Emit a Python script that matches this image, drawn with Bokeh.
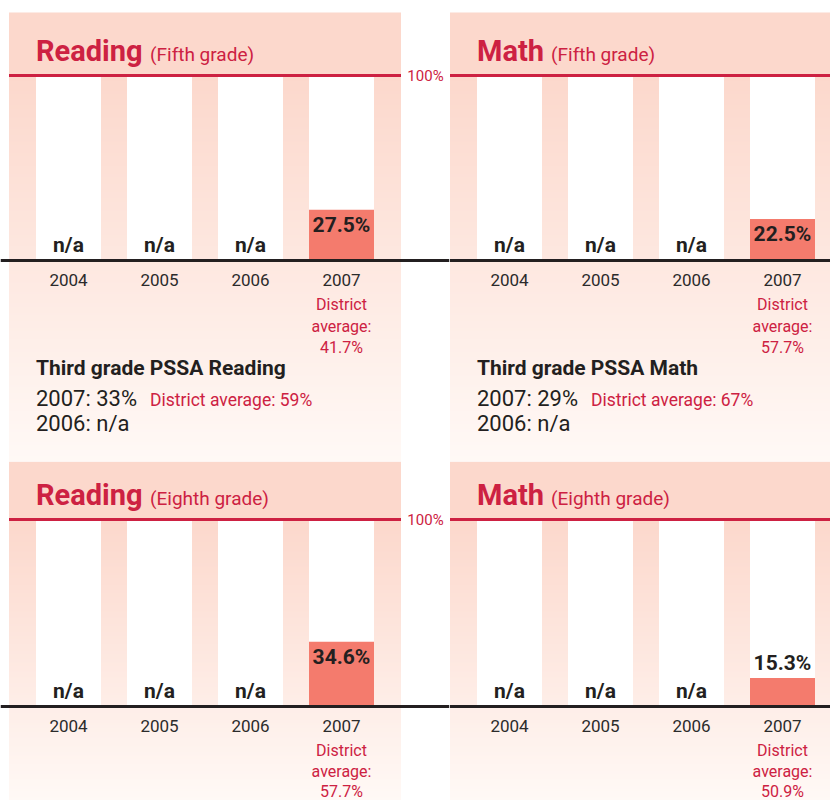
import numpy as np
from bokeh.plotting import figure
from bokeh.layouts import column, row
from bokeh.models import Range1d, Span
from bokeh.core.properties import value
from bokeh.embed import file_html
from bokeh.resources import INLINE

# ---------------- data ----------------
years = ["2004", "2005", "2006", "2007"]
reading_fifth = [None, None, None, 27.5]
math_fifth = [None, None, None, 22.5]
reading_eighth = [None, None, None, 34.6]
math_eighth = [None, None, None, 15.3]
district_fifth = {"Reading": 41.7, "Math": 57.7}
district_eighth = {"Reading": 57.7, "Math": 50.9}
third_subjects = ["Reading", "Math"]
third_2007 = [33, 29]
third_district = [59, 67]
third_2006 = ["n/a", "n/a"]

# ---------------- style ----------------
FONT = "Roboto"
CRIMSON = "#CD2142"
SALMON = "#F47B6D"
DARK = "#231F20"
C0 = np.array([252, 216, 204])
C2 = np.array([255, 249, 246])
SLOT = 91.0          # px between column centres
COLW = 65.0 / SLOT   # white column width
PAD = 59.5 / SLOT    # pink margin beyond first/last centre


def hexcol(c):
    return "#%02x%02x%02x" % tuple(int(round(v)) for v in c)


def txt(p, x, y, text, size, color=DARK, bold=False, align="left",
        xo=0, yo=0):
    p.text(x=x, y=y, text=text, x_offset=xo, y_offset=yo,
           text_font=value(FONT), text_font_size=f"{size}px",
           text_font_style="bold" if bold else "normal",
           text_color=color, text_align=align, text_baseline="middle")


def panel(subject, grade, vals, dist, width, height, x0px, line100, ppp,
          header, show100, dstep, third=None):
    y_top = 100 + line100 / ppp
    y_bot = 100 - (height - line100) / ppp
    p = figure(width=width, height=height,
               x_range=Range1d(-x0px / SLOT, (width - x0px) / SLOT),
               y_range=Range1d(y_bot, y_top),
               output_backend="svg", toolbar_location=None,
               x_axis_type=None, y_axis_type=None, min_border=0)
    p.outline_line_color = None
    p.background_fill_color = "white"
    p.border_fill_color = "white"
    p.xgrid.visible = False
    p.ygrid.visible = False

    n = len(years)
    xs = list(range(n))
    left, right = -PAD, (n - 1) + PAD

    # gradient background (overlapping pixel bands)
    tops, bots, cols = [], [], []
    start_px = line100 - header
    step = 3
    for ypx in range(int(start_px), height, step):
        t = max(0.0, (ypx - line100) / (height - line100))
        tops.append(100 - (ypx - line100) / ppp)
        bots.append(100 - (min(ypx + step + 1.5, height + 2) - line100) / ppp)
        cols.append(hexcol(C0 + (C2 - C0) * t))
    p.quad(left=[left] * len(tops), right=[right] * len(tops), top=tops,
           bottom=bots, fill_color=cols, line_color=None)

    # white column slots 0..100
    p.vbar(x=xs, width=COLW, bottom=0, top=100, fill_color="white",
           line_color=None)

    # value bars
    vx = [i for i, v in enumerate(vals) if v is not None]
    vv = [v for v in vals if v is not None]
    p.vbar(x=vx, width=COLW, bottom=0, top=vv, fill_color=SALMON,
           line_color=None)

    # lines
    p.segment(x0=[left], x1=[right], y0=[100], y1=[100], line_color=CRIMSON,
              line_width=3)
    p.add_layout(Span(location=0, dimension="width", line_color=DARK,
                      line_width=3))
    if show100:
        txt(p, [(n - 1) + PAD + 24.5 / SLOT], [100], ["100%"], 15, CRIMSON,
            align="center")

    # title
    txt(p, [-COLW / 2], [100], [subject], 29, CRIMSON, bold=True, yo=-25)
    txt(p, [-COLW / 2], [100], ["(" + grade + ")"], 19, CRIMSON,
        xo=(114 if subject == "Reading" else 74), yo=-21)

    # n/a labels
    nx = [i for i, v in enumerate(vals) if v is None]
    txt(p, nx, [0] * len(nx), ["n/a"] * len(nx), 21, DARK, bold=True,
        align="center", yo=-16)

    # value labels (inside bar if tall enough, otherwise above)
    for i, v in zip(vx, vv):
        yo = 15 if v * ppp >= 40 else -15
        txt(p, [i], [v], [f"{v}%"], 21, DARK, bold=True, align="center",
            yo=yo)

    # year labels
    txt(p, xs, [0] * n, years, 17, "#2b2b2b", align="center", yo=19.5)

    # district average under last year
    for k, line in enumerate(["District", "average:", f"{dist}%"]):
        txt(p, [n - 1], [0], [line], 16, CRIMSON, align="center",
            yo=44 + dstep * k)

    if third is not None:
        subj, v07, vd, v06 = third
        bx = [-COLW / 2]
        txt(p, bx, [0], [f"Third grade PSSA {subj}"], 21, DARK, bold=True,
            yo=107.5)
        txt(p, bx, [0], [f"2007: {v07}%"], 22, DARK, yo=137.5)
        txt(p, bx, [0], [f"District average: {vd}%"], 17.5, CRIMSON,
            xo=114, yo=139)
        txt(p, bx, [0], [f"2006: {v06}"], 22, DARK, yo=162.5)
    return p


LW, RW = 449, 381
TH, BH = 461, 339

p1 = panel("Reading", "Fifth grade", reading_fifth, district_fifth["Reading"],
           LW, TH, 68, 75, 1.85, 63, True, 21.7,
           (third_subjects[0], third_2007[0], third_district[0], third_2006[0]))
p2 = panel("Math", "Fifth grade", math_fifth, district_fifth["Math"],
           RW, TH, 60, 75, 1.85, 63, False, 21.7,
           (third_subjects[1], third_2007[1], third_district[1], third_2006[1]))
p3 = panel("Reading", "Eighth grade", reading_eighth, district_eighth["Reading"],
           LW, BH, 68, 58, 1.87, 58, True, 20.5)
p4 = panel("Math", "Eighth grade", math_eighth, district_eighth["Math"],
           RW, BH, 60, 58, 1.87, 58, False, 20.5)

layout = column(row(p1, p2, spacing=0), row(p3, p4, spacing=0), spacing=0)

with open("out.html", "w") as f:
    f.write(file_html(layout, INLINE))
